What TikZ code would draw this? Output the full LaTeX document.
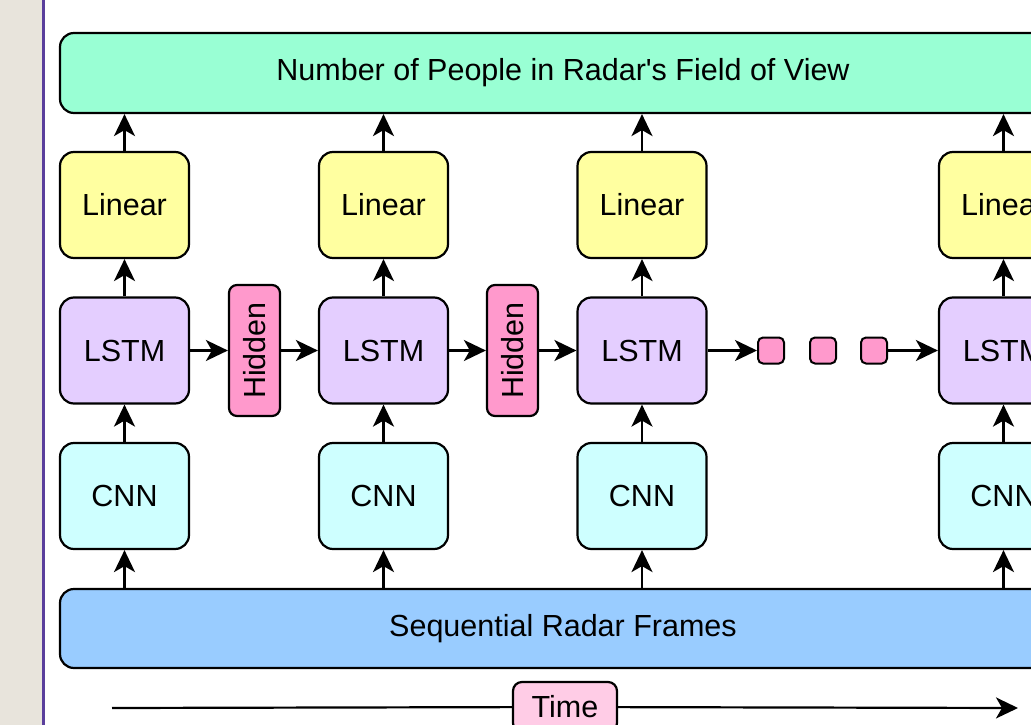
\documentclass[tikz,border=0pt]{standalone}
\usepackage{fontspec}
\newfontfamily\lsans{Liberation Sans}
\usetikzlibrary{arrows.meta}
\definecolor{cTop}{RGB}{153,255,212}
\definecolor{cLin}{RGB}{255,255,160}
\definecolor{cLstm}{RGB}{228,206,255}
\definecolor{cCnn}{RGB}{206,255,255}
\definecolor{cBot}{RGB}{153,204,255}
\definecolor{cHid}{RGB}{255,153,204}
\definecolor{cTime}{RGB}{255,204,230}
\definecolor{cBeige}{RGB}{232,228,220}
\definecolor{cRule}{RGB}{90,63,156}
\begin{document}
\begin{tikzpicture}[x=1pt,y=-1pt,
  box/.style={draw=black, line width=2.2pt, rounded corners=14pt, inner sep=0pt,
              font=\lsans\fontsize{30.5}{36}\selectfont, text=black},
  unit/.style={box, minimum width=129pt, minimum height=106pt},
  hid/.style={box, fill=cHid, rotate=90, minimum width=131pt, minimum height=51pt, rounded corners=8pt},
  dot/.style={draw=black, line width=2pt, fill=cHid, rounded corners=5pt, minimum size=26pt, inner sep=0pt},
  arr/.style={line width=2.2pt, -{Stealth[length=22pt,width=21pt,inset=6pt]}},
  plain/.style={line width=2.2pt},
]
\path[use as bounding box] (0,0) rectangle (1031,725);
\clip (0,0) rectangle (1031,725);
\fill[white] (0,0) rectangle (1031,725);
\fill[cBeige] (0,0) rectangle (42,725);
\fill[cRule] (42,0) rectangle (45,725);

% top and bottom bars
\node[box, fill=cTop, minimum width=1006pt, minimum height=80pt] (top) at (563,73) {Number of People in Radar's Field of View};
\node[box, fill=cBot, minimum width=1006pt, minimum height=79pt] (bot) at (563,628.5) {Sequential Radar Frames};

% columns
\foreach \i/\x in {1/124.5, 2/383.5, 3/642, 4/1003.5}{
  \node[unit, fill=cLin] (lin\i) at (\x,205) {Linear};
  \node[unit, fill=cLstm] (lstm\i) at (\x,350.5) {LSTM};
  \node[unit, fill=cCnn] (cnn\i) at (\x,496) {CNN};
  \draw[arr] (lin\i.north) -- (lin\i.north |- top.south);
  \draw[arr] (lstm\i.north) -- (lin\i.south);
  \draw[arr] (cnn\i.north) -- (lstm\i.south);
  \draw[arr] (cnn\i.south |- bot.north) -- (cnn\i.south);
}

% hidden states
\node[hid] (h1) at (254.5,350.5) {Hidden};
\node[hid] (h2) at (512.5,350.5) {Hidden};
\draw[arr] (lstm1.east) -- (h1);
\draw[arr] (h1) -- (lstm2.west);
\draw[arr] (lstm2.east) -- (h2);
\draw[arr] (h2) -- (lstm3.west);

% ellipsis squares
\node[dot] (d1) at (771,350.5) {};
\node[dot] (d2) at (823,350.5) {};
\node[dot] (d3) at (874,350.5) {};
\draw[arr] (lstm3.east) -- (d1);
\draw[arr] (d3) -- (lstm4.west);

% time axis
\coordinate (ts) at (112,708);
\coordinate (te) at (1018,708);
\node[box, fill=cTime, minimum width=104pt, minimum height=50pt, rounded corners=9pt] (time) at (565,707) {Time};
\draw[plain] (ts) -- (time);
\draw[arr] (time) -- (te);
\end{tikzpicture}
\end{document}
